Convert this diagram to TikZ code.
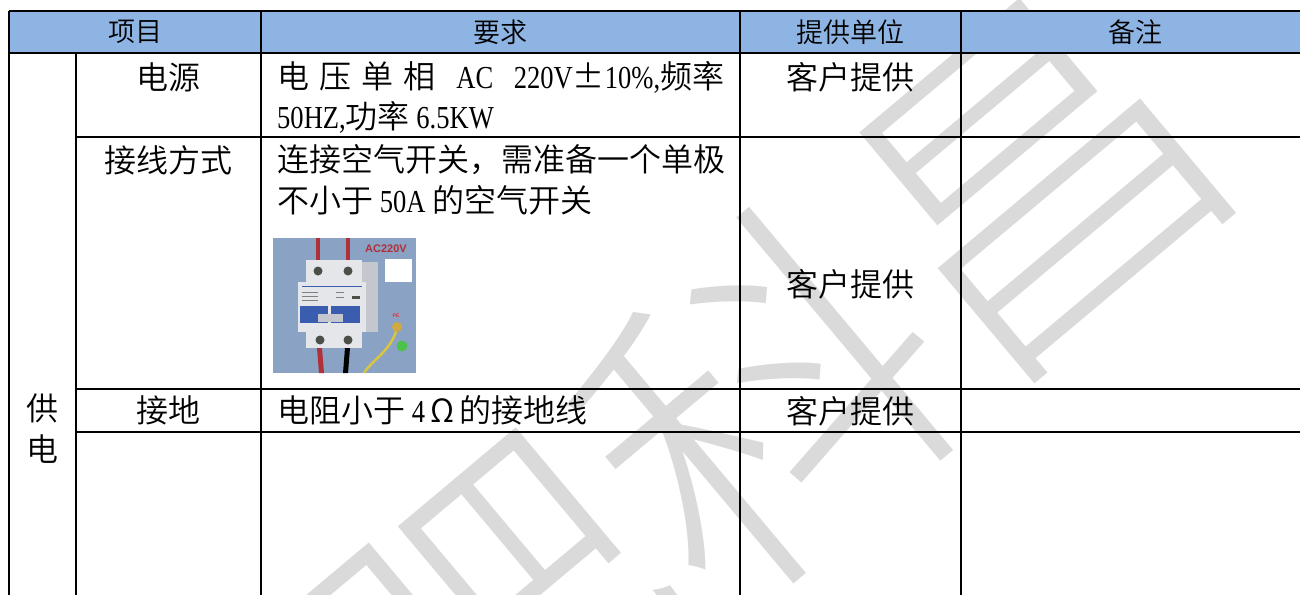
\documentclass[tikz,border=0pt]{standalone}
\usepackage{fontspec}
\IfFontExistsTF{Noto Sans CJK SC DemiLight}{\setmainfont{Noto Sans CJK SC DemiLight}}{\setmainfont{Noto Sans CJK SC}}
\IfFontExistsTF{Noto Sans CJK SC Light}{\newfontfamily\wmfont{Noto Sans CJK SC Light}}{\newfontfamily\wmfont{Noto Sans CJK SC}}
\newfontfamily\latn{Liberation Serif}[FakeStretch=0.83]
\newfontfamily\lsans{Liberation Sans}
\definecolor{hdr}{HTML}{8EB4E3}
\definecolor{wmk}{HTML}{DADADA}
\definecolor{photobg}{HTML}{8AA2C4}
\definecolor{wirered}{HTML}{B0303A}
\definecolor{bodylight}{HTML}{E4E6EA}
\definecolor{bodyside}{HTML}{C4C8CE}
\definecolor{tglblue}{HTML}{3A5DB0}
\definecolor{screw}{HTML}{4A5048}
\definecolor{ylw}{HTML}{D8C640}
\definecolor{grn}{HTML}{4CC24C}
\tikzset{
  hd/.style={font=\fontsize{27}{27}\selectfont, inner sep=0pt},
  bd/.style={font=\fontsize{32}{32}\selectfont, inner sep=0pt},
  bdl/.style={bd, anchor=west},
  gridline/.style={line width=2.5pt, black},
  wmtext/.style={text=wmk, inner sep=0pt, font=\wmfont\fontsize{350}{350}\selectfont},
}
\begin{document}
\begin{tikzpicture}[x=1pt,y=-1pt]
\useasboundingbox (0,0) rectangle (1300,594);
\clip (0,0) rectangle (1300,594);
\fill[white] (0,0) rectangle (1300,594);
% watermark
\node[wmtext, rotate=40] (wm) at (765,402) {肥科昌};
% header fill
\fill[hdr] (9,11) rectangle (1310,53);
% photo of the circuit breaker
\begin{scope}
\fill[photobg] (273,238) rectangle (416,373);
\fill[wirered] (316,238) rectangle (320,262);
\fill[wirered] (346,238) rectangle (350,262);
\fill[bodyside] (362,262) rectangle (378,332);
\fill[bodylight] (306,260) rectangle (362,282);
\fill[bodylight] (298,282) rectangle (366,332);
\fill[bodylight] (306,332) rectangle (362,348);
\draw[tglblue, line width=1pt] (302,286) -- (362,286);
\foreach \yy in {292,296,300} {\draw[gray, line width=0.6pt] (302,\yy) -- (318,\yy);}
\draw[gray, line width=0.6pt] (336,292) -- (344,292) (336,297) -- (344,297);
\fill[screw] (352,296) rectangle (360,299);
\fill[tglblue] (300,306) rectangle (328,323);
\fill[tglblue] (331,306) rectangle (360,323);
\fill[bodyside] (318,314) rectangle (343,322);
\fill[screw] (318,271) circle (4.5);
\fill[screw] (348,271) circle (4.5);
\fill[screw] (320,340) circle (4.5);
\fill[screw] (348,340) circle (4.5);
\fill[wirered] (317,348) -- (322,348) -- (324,373) -- (319,373) -- cycle;
\fill[black] (345,348) -- (350,348) -- (348,373) -- (343,373) -- cycle;
\draw[ylw, line width=2.5pt] (397,328) .. controls (392,350) and (372,360) .. (364,373);
\fill[ylw!60!brown] (397,327) circle (5);
\node[text=red, inner sep=0pt, font=\lsans\fontsize{5}{5}\selectfont] (pe) at (396,316) {PE};
\fill[grn] (402,346) circle (5.5);
\fill[white] (385,259) rectangle (412,282);
\node[text=wirered, inner sep=0pt, font=\lsans\bfseries\fontsize{11}{11}\selectfont] (ac) at (386,249) {AC220V};
\end{scope}
% grid
\draw[gridline] (9,11) -- (1310,11);
\draw[gridline] (9,53) -- (1310,53);
\draw[gridline] (76,137) -- (1310,137);
\draw[gridline] (76,389) -- (1310,389);
\draw[gridline] (76,432) -- (1310,432);
\draw[gridline] (9,11) -- (9,600);
\draw[gridline] (76,53) -- (76,600);
\draw[gridline] (261,11) -- (261,600);
\draw[gridline] (740,11) -- (740,600);
\draw[gridline] (961,11) -- (961,600);
% header texts
\node[hd] (h1) at (135,32) {项目};
\node[hd] (h2) at (500,32) {要求};
\node[hd] (h3) at (850,32) {提供单位};
\node[hd] (h4) at (1135,32) {备注};
% first column
\node[bd] (gong) at (42,408) {供};
\node[bd] (dian) at (42,449) {电};
% second column
\node[bd] (i1) at (168,77) {电源};
\node[bd] (i2) at (168,160) {接线方式};
\node[bd] (i3) at (168,410) {接地};
% requirements
\node[bdl] (r1a) at (277,77) {\hbox to 447pt{电\hfil 压\hfil 单\hfil 相\hfil\hfil{\latn AC}\hfil\hfil{\latn 220V}±{\latn 10\%,}频率}};
\node[bdl] (r1b) at (277,117) {{\latn 50HZ,}功率{\latn\ 6.5KW}};
\node[bdl] (r2a) at (277,160) {连接空气开关，需准备一个单极};
\node[bdl] (r2b) at (277,200) {不小于{\latn\ 50A }的空气开关};
\node[bdl] (r3a) at (277,410) {电阻小于{\latn\ 4\,}Ω{\latn\,}的接地线};
% provider
\node[bd] (p1) at (850,77) {客户提供};
\node[bd] (p2) at (850,284) {客户提供};
\node[bd] (p3) at (850,411) {客户提供};
\end{tikzpicture}
\end{document}
